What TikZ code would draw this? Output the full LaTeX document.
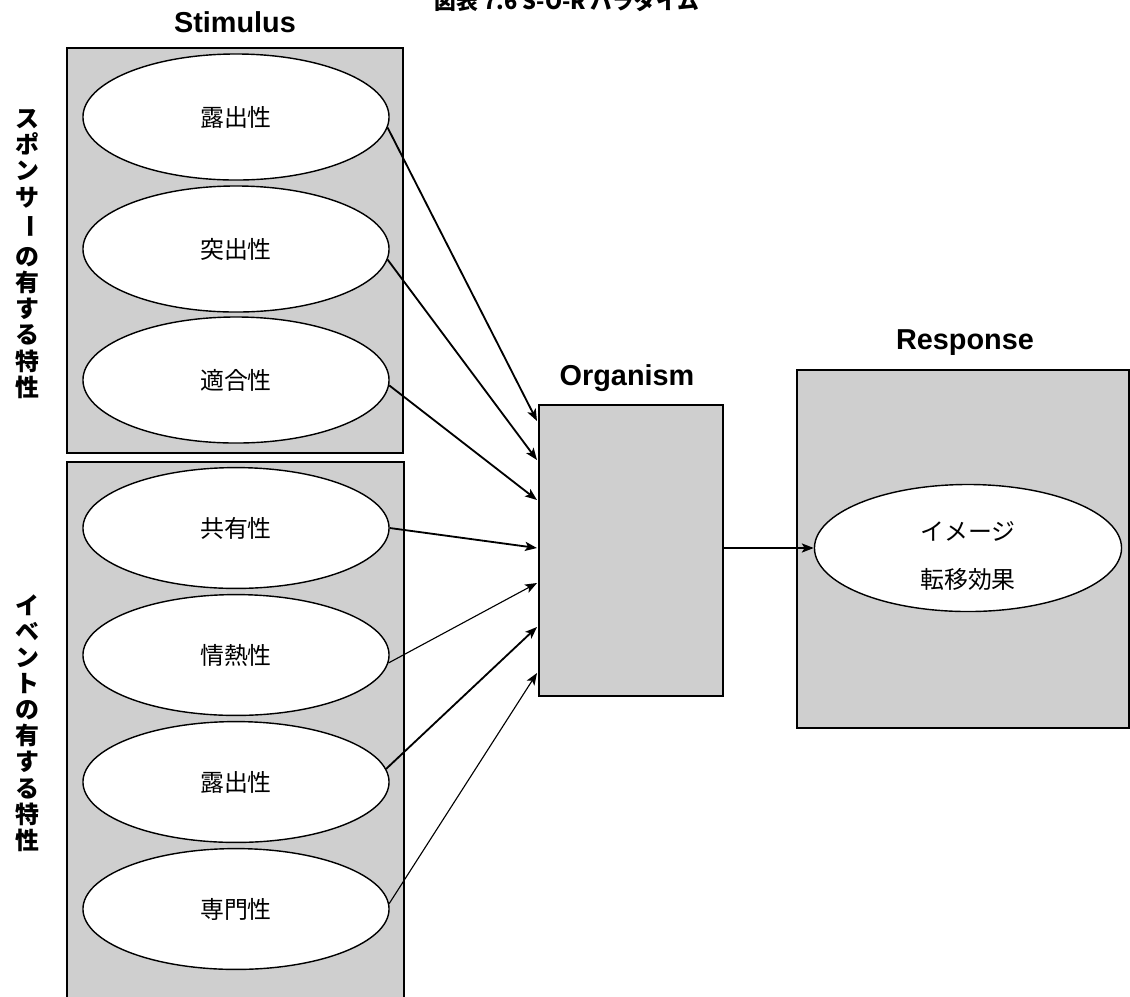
\documentclass[tikz,border=0pt]{standalone}
\usepackage{fontspec}
\usepackage{graphicx}
\usetikzlibrary{arrows.meta, positioning, shapes.geometric}
\newfontfamily\jp{Noto Sans CJK JP}
\newfontfamily\lab{Liberation Sans}
\definecolor{panel}{HTML}{CFCFCF}

\begin{document}
\begin{tikzpicture}[
    x=0.025cm, y=-0.025cm,
    >={Stealth[length=8.5pt, width=6.5pt, inset=2pt]},
    box/.style={draw, line width=1.2pt, fill=panel, inner sep=0pt},
    oval/.style={ellipse, draw, line width=1pt, fill=white, inner sep=0pt,
                 minimum width=7.65cm, font=\jp\fontsize{17}{20}\selectfont},
    head/.style={font=\lab\bfseries\fontsize{20.5}{24}\selectfont},
    side/.style={align=center, font=\jp\bfseries\fontsize{17}{18.6}\selectfont},
    arr/.style={->, line width=1.3pt},
    thin arr/.style={->, line width=0.8pt},
]
\useasboundingbox (0,0) rectangle (1130,996);
\clip (0,0) rectangle (1130,996);

\node[head, anchor=base, font=\jp\bfseries\fontsize{15.5}{18}\selectfont] (title) at (567,9)
    {図表 7.6 S-O-R パラダイム};

\node[box, minimum width=8.4cm, minimum height=10.125cm] (sbox) at (235,250.5) {};
\node[box, minimum width=8.425cm, minimum height=13.7cm] (ebox) at (235.5,736) {};
\node[box, minimum width=4.6cm, minimum height=7.275cm] (org) at (631,550.5) {};
\node[box, minimum width=8.3cm, minimum height=8.95cm] (resp) at (963,549) {};

\node[head] (stim) at (235,22) {Stimulus};
\node[head] (orgl) at (627,378) {Organism};
\node[head] (respl) at (965,343) {Response};

\node[side] (spon) at (27,254)
    {ス\\ポ\\ン\\サ\\\rotatebox[origin=c]{-90}{ー}\\[5pt]の\\有\\す\\る\\特\\性};
\node[side] (evt) at (27,723)
    {イ\\ベ\\ン\\ト\\の\\有\\す\\る\\特\\性};

\node[oval, minimum height=3.15cm] (s1) at (236,117) {露出性};
\node[oval, minimum height=3.15cm] (s2) at (236,249) {突出性};
\node[oval, minimum height=3.15cm] (s3) at (236,380) {適合性};

\node[oval, minimum height=3.02cm] (e1) at (236,528) {共有性};
\node[oval, minimum height=3.02cm] (e2) at (236,655) {情熱性};
\node[oval, minimum height=3.02cm] (e3) at (236,782) {露出性};
\node[oval, minimum height=3.02cm] (e4) at (236,909) {専門性};

\node[oval, minimum width=7.675cm, minimum height=3.175cm,
      font=\jp\fontsize{17}{34}\selectfont] (img) at (968,548)
    {\raisebox{-9pt}[26pt][26pt]{\begin{tabular}{@{}c@{}}イメージ\\転移効果\end{tabular}}};

\foreach \i/\y in {1/421, 2/460, 3/500, 4/548, 5/583, 6/627, 7/673}
    \coordinate (o\i) at (537,\y);

\draw[arr] (s1.-4) -- (o1);
\draw[arr] (s2.-4) -- (o2);
\draw[arr] (s3.-2) -- (o3);
\draw[arr] (e1.east) -- (o4);
\draw[thin arr] (e2.-3) -- (o5);
\draw[arr] (e3.5) -- (o6);
\draw[thin arr] (e4.2) -- (o7);

\draw[arr] (org.east |- img) -- (img.west);

\end{tikzpicture}
\end{document}
